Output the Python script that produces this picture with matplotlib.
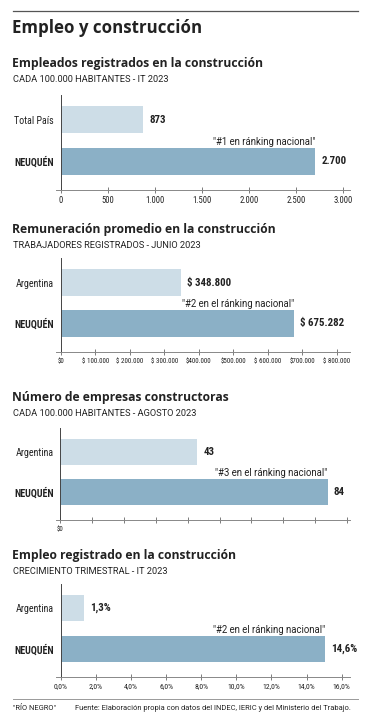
import matplotlib
matplotlib.use("Agg")
import matplotlib.pyplot as plt

# 数据
titulos = ["Empleados registrados en la construcción",
           "Remuneración promedio en la construcción",
           "Número de empresas constructoras",
           "Empleo registrado en la construcción"]
subtitulos = ["CADA 100.000 HABITANTES - IT 2023",
              "TRABAJADORES REGISTRADOS - JUNIO 2023",
              "CADA 100.000 HABITANTES - AGOSTO 2023",
              "CRECIMIENTO TRIMESTRAL - IT 2023"]
categorias = [["Total País", "NEUQUÉN"],
              ["Argentina", "NEUQUÉN"],
              ["Argentina", "NEUQUÉN"],
              ["Argentina", "NEUQUÉN"]]
empleados = [873, 2700]
remuneracion = [348800, 675282]
empresas = [43, 84]
crecimiento = [1.3, 15.05]
etiquetas_valor = [["873", "2.700"],
                   ["$ 348.800", "$ 675.282"],
                   ["43", "84"],
                   ["1,3%", "14,6%"]]
ranking = ['"#1 en ránking nacional"',
           '"#2 en el ránking nacional"',
           '"#3 en el ránking nacional"',
           '"#2 en el ránking nacional"']
ticks1 = [0, 500, 1000, 1500, 2000, 2500, 3000]
ticklabels1 = ["0", "500", "1.000", "1.500", "2.000", "2.500", "3.000"]
ticks2 = [0, 100000, 200000, 300000, 400000, 500000, 600000, 700000, 800000]
ticklabels2 = ["$0", "$ 100.000", "$ 200.000", "$ 300.000", "$400.000",
               "$500.000", "$ 600.000", "$700.000", "$ 800.000"]
ticks3 = [0, 10, 20, 30, 40, 50, 60, 70, 80, 90]
ticklabels3 = ["$0", "", "", "", "", "", "", "", "", ""]
ticks4 = [0, 2, 4, 6, 8, 10, 12, 14, 16]
ticklabels4 = ["0,0%", "2,0%", "4,0%", "6,0%", "8,0%", "10,0%", "12,0%",
               "14,0%", "16,0%"]

valores = [empleados, remuneracion, empresas, crecimiento]
ticks = [ticks1, ticks2, ticks3, ticks4]
ticklabels = [ticklabels1, ticklabels2, ticklabels3, ticklabels4]
xlims = [(-50, 3071), (-14000, 838500), (-1.4, 91), (-0.27, 16.47)]
tick_fs = [6.2, 5, 5, 5.6]

# 位置 (像素)
W, H = 381, 719
tit_y = [63, 230, 397, 556]
sub_y = [80, 246, 413, 572]
ax_top = [95, 258, 428, 584]
ax_bot = [190, 352, 520, 677]
x0_px, x1_px = 56, 350

TEXTO = "#222222"
CLARO = "#cddde7"
OSCURO = "#8bb0c6"
narrow = ["Roboto Condensed", "DejaVu Sans"]
normal = ["Roboto", "DejaVu Sans"]
negrita = ["Open Sans", "DejaVu Sans"]

fig = plt.figure(figsize=(W / 100, H / 100), dpi=100)
fig.patch.set_facecolor("white")


def fx(px):
    return px / W


def fy(py):
    return 1 - py / H


# 顶部的线和标题
fig.add_artist(plt.Line2D([fx(13), fx(358)], [fy(11), fy(11)],
                          color="#555555", lw=0.9))
fig.text(fx(12), fy(28), "Empleo y construcción", fontsize=12.2,
         fontweight="bold", family=negrita, color=TEXTO, va="center")

for i in range(4):
    fig.text(fx(12), fy(tit_y[i]), titulos[i], fontsize=8.7,
             fontweight="bold", family=negrita, color=TEXTO, va="center")
    fig.text(fx(13), fy(sub_y[i]), subtitulos[i], fontsize=6.7,
             family=normal, color=TEXTO, va="center")

    ax = fig.add_axes([fx(x0_px), fy(ax_bot[i]), (x1_px - x0_px) / W,
                       (ax_bot[i] - ax_top[i]) / H])
    ax.barh([0, 1], valores[i], height=0.65, color=[CLARO, OSCURO])
    ax.set_xlim(*xlims[i])
    ax.set_ylim(1.7, -0.6)

    for s in ["top", "right"]:
        ax.spines[s].set_visible(False)
    ax.spines["left"].set_position(("data", 0))
    ax.spines["left"].set_color("#444444")
    ax.spines["left"].set_linewidth(0.7)
    ax.spines["bottom"].set_color("#888888")
    ax.spines["bottom"].set_linewidth(0.7)

    ax.set_xticks(ticks[i])
    ax.set_xticklabels(ticklabels[i], fontsize=tick_fs[i], family=narrow,
                       color=TEXTO)
    ax.tick_params(axis="x", direction="inout", length=5, width=0.6,
                   color="#666666", pad=2)
    ax.set_yticks([0, 1])
    ax.set_yticklabels(categorias[i], family=narrow, fontsize=7.2,
                       color=TEXTO)
    ax.get_yticklabels()[1].set_fontweight("bold")
    ax.tick_params(axis="y", length=0, pad=5)

    for j in range(2):
        ax.annotate(etiquetas_valor[i][j], (valores[i][j], j),
                    xytext=(4.5, 0), textcoords="offset points",
                    va="center", ha="left", fontsize=7.8, fontweight="bold",
                    family=narrow, color=TEXTO)
    ax.text(valores[i][1], 0.53, ranking[i], ha="right", va="center",
            fontsize=6.9, family=normal, color=TEXTO)

# 底部
fig.add_artist(plt.Line2D([fx(13), fx(358)], [fy(699), fy(699)],
                          color="#999999", lw=0.7))
fig.text(fx(13), fy(708), '"RÍO NEGRO"', fontsize=5.4, family=normal,
         color=TEXTO, va="center")
fig.text(fx(75), fy(708),
         "Fuente: Elaboración propia con datos del INDEC, IERIC y del "
         "Ministerio del Trabajo.", fontsize=5.4, family=normal,
         color=TEXTO, va="center")

fig.savefig("out.png", dpi=100)
